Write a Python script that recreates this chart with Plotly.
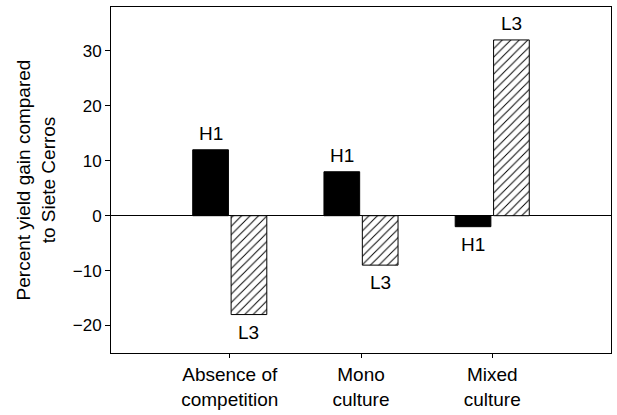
import plotly.graph_objects as go

categories = ["Absence of<br>competition", "Mono<br>culture", "Mixed<br>culture"]
h1_values = [12, 8, -2]
l3_values = [-18, -9, 32]
h1_label = "H1"
l3_label = "L3"
y_ticks = [-20, -10, 0, 10, 20, 30]
y_tick_text = ["\u221220", "\u221210", "0", "10", "20", "30"]

font_family = "Liberation Sans, Arial, sans-serif"

fig = go.Figure()
fig.add_trace(go.Bar(
    x=categories, y=h1_values, name=h1_label,
    marker=dict(color="black", line=dict(color="black", width=1)),
))
fig.add_trace(go.Bar(
    x=categories, y=l3_values, name=l3_label,
    marker=dict(color="white", line=dict(color="black", width=1),
                pattern=dict(shape="/", fgcolor="black", bgcolor="white",
                             fgopacity=1, size=6, solidity=0.16)),
))

# bar labels (above positive bars, below negative bars)
for vals, lab, shift in [(h1_values, h1_label, -19), (l3_values, l3_label, 19)]:
    for cat, v in zip(categories, vals):
        fig.add_annotation(
            x=cat, y=v, xref="x", yref="y", text=lab, showarrow=False,
            xshift=shift, yshift=(4 if v >= 0 else -5),
            yanchor=("bottom" if v >= 0 else "top"),
            font=dict(size=19, color="black", family=font_family),
        )

fig.update_layout(
    width=617, height=415,
    margin=dict(l=111, r=5, t=7, b=58),
    paper_bgcolor="white", plot_bgcolor="white",
    showlegend=False,
    barmode="group", bargap=0.415, bargroupgap=0.07,
    font=dict(family=font_family, size=19, color="black"),
)
fig.update_xaxes(
    range=[-0.905, 2.905], showline=True, linecolor="black", linewidth=1, mirror=True,
    ticks="outside", ticklen=4, tickcolor="black", showgrid=False,
    tickfont=dict(size=19),
)
fig.update_yaxes(
    range=[-25, 38], showline=True, linecolor="black", linewidth=1, mirror=True,
    ticks="outside", ticklen=5, tickcolor="black", showgrid=False,
    tickvals=y_ticks, ticktext=y_tick_text, tickfont=dict(size=17),
    zeroline=True, zerolinecolor="black", zerolinewidth=1,
    title=dict(text="Percent yield gain compared<br>to Siete Cerros",
               font=dict(size=19), standoff=12),
)

fig.write_html("out.html", config={"displayModeBar": False},
               post_script="document.body.style.margin='0px';")
